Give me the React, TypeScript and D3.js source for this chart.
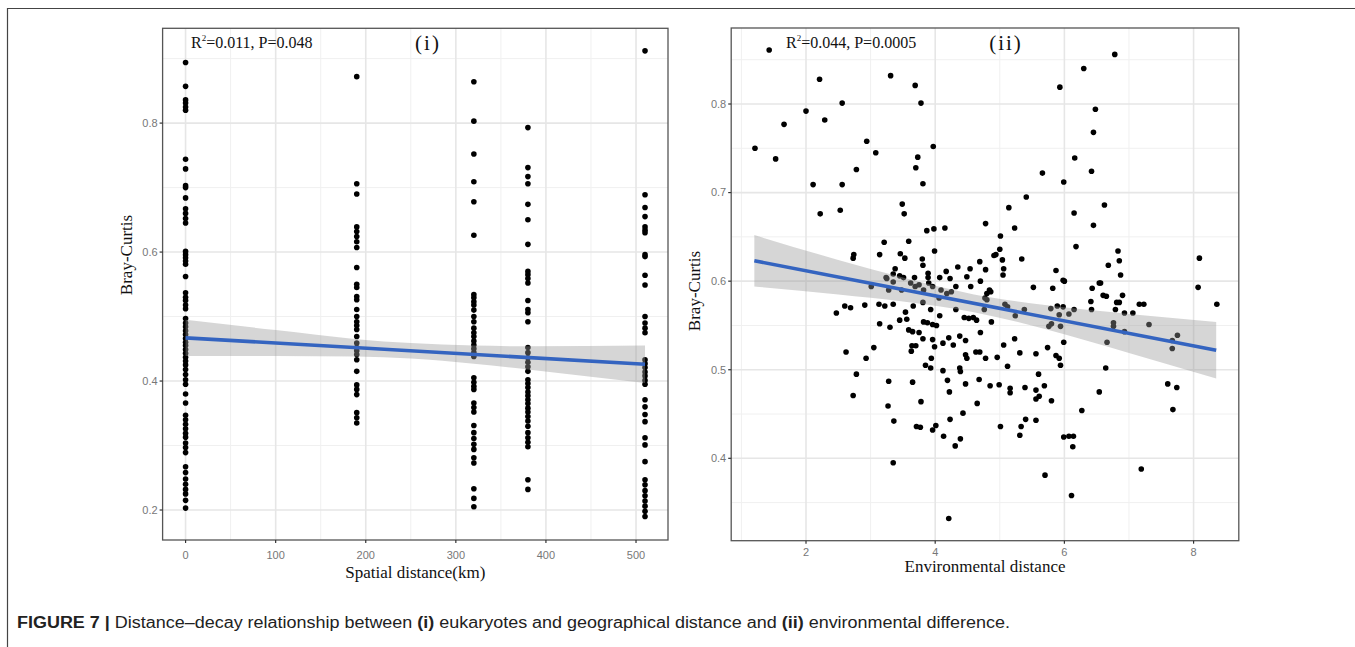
import React from 'react';
import * as d3 from 'd3';

// ---- panel (i): Bray-Curtis vs spatial distance, one column per site pair distance
const spatialCols = [0, 190, 320, 380, 510];
const col0 = [0.894, 0.857, 0.836, 0.831, 0.825, 0.820, 0.744, 0.729, 0.703, 0.700, 0.684, 0.667, 0.660, 0.652, 0.645,
  0.601, 0.596, 0.591, 0.586, 0.581, 0.562, 0.537, 0.530, 0.525, 0.518, 0.512, 0.497, 0.490, 0.484, 0.478, 0.472,
  0.466, 0.460, 0.455, 0.449, 0.443, 0.437, 0.431, 0.425, 0.418, 0.410, 0.402, 0.395, 0.380, 0.366, 0.347, 0.340,
  0.333, 0.326, 0.319, 0.313, 0.304, 0.297, 0.289, 0.267, 0.258, 0.248, 0.240, 0.232, 0.225, 0.215, 0.203];
const col190 = [0.872, 0.706, 0.690, 0.639, 0.632, 0.624, 0.616, 0.607, 0.576, 0.550, 0.545, 0.531, 0.526, 0.511,
  0.500, 0.492, 0.486, 0.480, 0.469, 0.459, 0.452, 0.447, 0.441, 0.433, 0.415, 0.394, 0.387, 0.379, 0.351, 0.343, 0.335];
const col320 = [0.864, 0.803, 0.752, 0.709, 0.678, 0.626, 0.534, 0.529, 0.523, 0.518, 0.510, 0.500, 0.492, 0.482,
  0.475, 0.469, 0.462, 0.456, 0.450, 0.444, 0.438, 0.405, 0.398, 0.392, 0.387, 0.366, 0.359, 0.352, 0.331, 0.320,
  0.311, 0.302, 0.294, 0.281, 0.273, 0.233, 0.218, 0.205];
const col380 = [0.793, 0.731, 0.717, 0.706, 0.674, 0.650, 0.612, 0.570, 0.565, 0.559, 0.552, 0.525, 0.511, 0.506,
  0.492, 0.452, 0.444, 0.436, 0.429, 0.422, 0.415, 0.402, 0.396, 0.390, 0.383, 0.377, 0.371, 0.365, 0.358, 0.352,
  0.345, 0.338, 0.330, 0.320, 0.312, 0.305, 0.298, 0.247, 0.232];
const col510 = [0.912, 0.689, 0.669, 0.655, 0.639, 0.634, 0.630, 0.596, 0.593, 0.564, 0.549, 0.500, 0.490, 0.482,
  0.475, 0.433, 0.427, 0.421, 0.414, 0.408, 0.401, 0.395, 0.371, 0.360, 0.348, 0.337, 0.312, 0.301, 0.275, 0.247,
  0.239, 0.230, 0.222, 0.214, 0.206, 0.198, 0.190];
const spatialValues = [col0, col190, col320, col380, col510];

// lm fit and 95% band
const spatialFitX = [0, 100, 190, 250, 320, 380, 510];
const spatialFitLo = [0.439, 0.439, 0.438, 0.435, 0.427, 0.418, 0.397];
const spatialFitHi = [0.495, 0.479, 0.465, 0.459, 0.455, 0.454, 0.455];
const spatialLine = [[0, 0.467], [510, 0.426]];

// ---- panel (ii): Bray-Curtis vs environmental distance
const envPoints: [number, number][] = [
  [1.43, 0.861], [1.21, 0.750], [1.53, 0.738], [1.66, 0.777], [2.0, 0.792], [2.21, 0.828], [2.29, 0.782],
  [2.56, 0.801], [2.11, 0.709], [2.56, 0.709], [2.22, 0.676], [2.53, 0.680], [2.78, 0.726], [2.94, 0.758],
  [3.08, 0.745], [3.31, 0.832], [3.49, 0.687], [3.52, 0.676], [2.73, 0.626], [2.74, 0.630], [3.21, 0.644],
  [3.14, 0.630], [3.59, 0.645], [3.46, 0.631], [3.53, 0.626], [3.38, 0.614], [3.35, 0.608], [3.24, 0.604],
  [3.45, 0.606], [3.51, 0.604],
  [3.69, 0.821], [3.78, 0.801], [3.97, 0.752], [3.73, 0.740], [3.70, 0.728], [3.81, 0.710], [3.87, 0.657],
  [3.98, 0.659], [4.15, 0.660], [3.99, 0.634], [3.80, 0.625], [3.81, 0.618], [3.89, 0.609], [3.89, 0.604],
  [3.68, 0.604], [4.07, 0.604], [4.17, 0.611], [4.23, 0.603], [4.35, 0.616], [4.49, 0.605], [4.54, 0.614],
  [4.69, 0.622], [4.78, 0.665], [4.78, 0.613], [5.01, 0.651], [5.0, 0.636], [4.91, 0.629], [4.94, 0.630],
  [5.04, 0.624], [5.06, 0.614], [5.05, 0.607], [5.14, 0.683], [5.23, 0.660], [5.41, 0.695], [5.34, 0.625],
  [5.66, 0.722], [5.93, 0.819], [5.99, 0.712], [6.30, 0.840], [6.48, 0.794], [6.45, 0.768], [6.16, 0.739],
  [6.42, 0.724], [6.62, 0.686], [6.15, 0.677], [6.45, 0.663], [6.18, 0.639], [5.87, 0.612], [5.98, 0.601],
  [6.78, 0.856], [8.09, 0.626], [8.07, 0.593], [6.90, 0.584], [6.87, 0.607], [6.85, 0.623], [6.83, 0.634],
  [6.68, 0.618], [6.60, 0.584], [6.65, 0.583], [6.56, 0.598], [6.43, 0.592], [5.82, 0.592], [5.52, 0.593],
  [4.80, 0.586], [4.77, 0.581], [4.84, 0.590], [4.32, 0.594], [4.25, 0.588], [4.18, 0.586], [4.06, 0.581],
  [4.09, 0.590], [3.96, 0.594], [3.90, 0.598], [3.82, 0.590], [3.75, 0.596], [3.69, 0.594], [3.62, 0.598],
  [3.48, 0.590], [3.35, 0.599], [3.28, 0.590], [3.25, 0.603], [3.01, 0.594], [4.55, 0.594], [4.70, 0.600],
  [4.86, 0.588], [6.00, 0.600], [6.54, 0.598],
  [2.47, 0.564], [2.60, 0.572], [2.69, 0.570], [2.91, 0.573], [3.13, 0.574], [3.22, 0.572], [3.35, 0.574],
  [3.14, 0.552], [3.30, 0.548], [3.45, 0.556], [3.54, 0.565], [3.56, 0.557], [3.66, 0.572], [3.81, 0.576],
  [3.59, 0.545], [3.65, 0.543], [3.75, 0.542], [3.82, 0.554], [3.88, 0.553], [3.96, 0.551], [4.02, 0.550],
  [3.93, 0.568], [4.07, 0.561], [3.81, 0.535], [3.64, 0.527], [3.63, 0.521], [3.70, 0.527], [3.96, 0.534],
  [3.99, 0.526], [3.94, 0.513], [4.12, 0.530], [4.21, 0.536], [4.28, 0.528], [4.32, 0.568], [4.38, 0.538],
  [4.47, 0.533], [4.45, 0.559], [4.52, 0.558], [4.59, 0.559], [4.64, 0.556], [4.70, 0.542], [4.47, 0.517],
  [4.49, 0.513], [4.63, 0.520], [4.69, 0.520], [4.78, 0.513], [4.87, 0.554], [4.76, 0.568], [4.80, 0.579],
  [4.96, 0.514], [5.06, 0.528], [5.12, 0.504], [5.23, 0.535], [5.31, 0.519], [5.56, 0.518], [5.74, 0.525],
  [5.87, 0.516], [5.92, 0.513], [5.94, 0.505], [5.99, 0.531], [5.98, 0.571], [5.79, 0.569], [5.89, 0.572],
  [6.07, 0.563], [6.15, 0.568], [6.41, 0.577], [6.42, 0.568], [6.66, 0.531], [6.64, 0.502], [6.54, 0.475],
  [5.76, 0.549], [5.80, 0.552], [5.94, 0.549], [5.92, 0.562], [5.08, 0.574], [5.12, 0.571], [5.24, 0.561],
  [5.38, 0.568],
  [2.62, 0.520], [2.93, 0.513], [3.05, 0.525], [2.78, 0.495], [2.73, 0.471], [3.28, 0.487], [3.27, 0.459],
  [3.36, 0.442], [3.35, 0.395], [3.65, 0.486], [3.78, 0.464], [3.71, 0.436], [3.77, 0.435], [3.85, 0.505],
  [3.93, 0.502], [3.96, 0.432], [4.01, 0.437], [4.12, 0.499], [4.19, 0.488], [4.22, 0.475], [4.13, 0.425],
  [4.23, 0.444], [4.31, 0.414], [4.39, 0.422], [4.38, 0.502], [4.39, 0.498], [4.43, 0.451], [4.47, 0.484],
  [4.65, 0.462], [4.68, 0.489], [4.85, 0.482], [4.99, 0.483], [5.01, 0.436], [5.16, 0.479], [5.16, 0.474],
  [5.31, 0.426], [5.33, 0.436], [5.39, 0.480], [5.40, 0.444], [5.56, 0.443], [5.56, 0.477], [5.61, 0.470],
  [5.56, 0.467], [5.60, 0.495], [5.69, 0.482], [5.80, 0.465], [5.70, 0.381], [5.99, 0.424], [6.07, 0.425],
  [6.14, 0.425], [6.13, 0.413], [6.11, 0.358], [6.27, 0.454], [4.21, 0.332],
  [7.60, 0.484], [7.74, 0.480], [7.68, 0.455], [7.19, 0.388], [7.31, 0.551], [7.67, 0.524], [7.75, 0.539],
  [7.67, 0.533], [8.36, 0.574], [7.06, 0.564], [6.93, 0.564], [7.16, 0.574], [7.23, 0.574], [6.79, 0.568],
  [6.81, 0.576], [6.85, 0.576], [6.93, 0.543], [6.76, 0.553], [6.76, 0.549],
];

const envFitX = [1.2, 2.5, 3.5, 4.6, 5.7, 7.0, 8.35];
const envFitLo = [0.594, 0.585, 0.577, 0.565, 0.546, 0.519, 0.490];
const envFitHi = [0.652, 0.624, 0.604, 0.585, 0.573, 0.563, 0.554];
const envLine = [[1.2, 0.623], [8.35, 0.522]];

const serif = '"Liberation Serif", "Times New Roman", serif';
const sans = '"Liberation Sans", Arial, sans-serif';

type PanelProps = {
  left: number; right: number; top: number; bottom: number;
  xDomain: [number, number]; yDomain: [number, number];
  xTicks: number[]; xMinor: number[]; yTicks: number[]; yMinor: number[];
  yFormat: (v: number) => string;
  points: [number, number][];
  fitX: number[]; fitLo: number[]; fitHi: number[]; line: number[][];
  stat: string; statP: string; tag: string;
  statX: number; tagX: number;
  xTitle: string; xTitleY: number; xTickY: number; yTitleX: number; yTitleY: number;
};

function Panel(p: PanelProps) {
  const x = d3.scaleLinear().domain(p.xDomain).range([p.left, p.right]);
  const y = d3.scaleLinear().domain(p.yDomain).range([p.bottom, p.top]);
  const band = d3.area<number>()
    .x((_, i) => x(p.fitX[i]))
    .y0((_, i) => y(p.fitLo[i]))
    .y1((_, i) => y(p.fitHi[i]))
    .curve(d3.curveMonotoneX);
  const fit = d3.line<number[]>().x(d => x(d[0])).y(d => y(d[1]));
  const clipId = 'clip' + p.tag.length;
  return (
    <g>
      <defs>
        <clipPath id={clipId}>
          <rect x={p.left} y={p.top} width={p.right - p.left} height={p.bottom - p.top} />
        </clipPath>
      </defs>
      <g clipPath={`url(#${clipId})`}>
        {p.xMinor.map(v => <line key={'xm' + v} x1={x(v)} x2={x(v)} y1={p.top} y2={p.bottom} stroke="#f0f0f0" strokeWidth={1} />)}
        {p.yMinor.map(v => <line key={'ym' + v} y1={y(v)} y2={y(v)} x1={p.left} x2={p.right} stroke="#f0f0f0" strokeWidth={1} />)}
        {p.xTicks.map(v => <line key={'xg' + v} x1={x(v)} x2={x(v)} y1={p.top} y2={p.bottom} stroke="#e6e6e6" strokeWidth={1.6} />)}
        {p.yTicks.map(v => <line key={'yg' + v} y1={y(v)} y2={y(v)} x1={p.left} x2={p.right} stroke="#e6e6e6" strokeWidth={1.6} />)}
        {p.points.map((d, i) => <circle key={i} cx={x(d[0])} cy={y(d[1])} r={2.8} fill="#000" />)}
        <path d={band(p.fitX) || ''} fill="#999" fillOpacity={0.4} />
        <path d={fit(p.line) || ''} stroke="#3464c0" strokeWidth={3.6} fill="none" />
      </g>
      <rect x={p.left} y={p.top} width={p.right - p.left} height={p.bottom - p.top} fill="none" stroke="#555" strokeWidth={1.3} />
      {p.yTicks.map(v => (
        <g key={'yt' + v}>
          <line x1={p.left - 3} x2={p.left} y1={y(v)} y2={y(v)} stroke="#333" strokeWidth={1.2} />
          <text x={p.left - 5} y={y(v)} dy="0.35em" textAnchor="end" fontFamily={sans} fontSize={11} fill="#777">{p.yFormat(v)}</text>
        </g>
      ))}
      {p.xTicks.map(v => (
        <g key={'xt' + v}>
          <line x1={x(v)} x2={x(v)} y1={p.bottom} y2={p.bottom + 3} stroke="#333" strokeWidth={1.2} />
          <text x={x(v)} y={p.xTickY} dy="0.35em" textAnchor="middle" fontFamily={sans} fontSize={11} fill="#777">{v}</text>
        </g>
      ))}
      <text x={p.statX} y={p.top + 20} fontFamily={serif} fontSize={16} fill="#111">
        R<tspan fontSize={9} dy={-7}>2</tspan><tspan dy={7}>{p.stat}, P={p.statP}</tspan>
      </text>
      <text x={p.tagX} y={p.top + 22} textAnchor="middle" fontFamily={serif} fontSize={21} fill="#111" letterSpacing={2}>({p.tag})</text>
      <text x={(p.left + p.right) / 2} y={p.xTitleY} textAnchor="middle" fontFamily={serif} fontSize={17} fill="#111">{p.xTitle}</text>
      <text transform={`translate(${p.yTitleX},${p.yTitleY}) rotate(-90)`} textAnchor="middle" fontFamily={serif} fontSize={17} fill="#111">Bray-Curtis</text>
    </g>
  );
}

export default function App() {
  const spatialPoints: [number, number][] = [];
  spatialCols.forEach((c, i) => spatialValues[i].forEach(v => spatialPoints.push([c, v])));
  return (
    <svg width={1355} height={647} style={{ position: 'absolute', left: 0, top: 0, background: '#fff' }}>
      <rect x={0} y={0} width={1355} height={647} fill="#fff" />
      <path d="M7.5,647 V8.5 H1355" fill="none" stroke="#444" strokeWidth={1.2} />
      <Panel
        left={162.6} right={668} top={28.3} bottom={540}
        xDomain={[-25.5, 535.5]} yDomain={[0.1535, 0.947]}
        xTicks={[0, 100, 200, 300, 400, 500]} xMinor={[50, 150, 250, 350, 450]}
        yTicks={[0.2, 0.4, 0.6, 0.8]} yMinor={[0.3, 0.5, 0.7, 0.9]}
        yFormat={d3.format('.1f')}
        points={spatialPoints}
        fitX={spatialFitX} fitLo={spatialFitLo} fitHi={spatialFitHi} line={spatialLine}
        stat="=0.011" statP="0.048" tag="i" statX={191} tagX={428}
        xTitle="Spatial distance(km)" xTitleY={578} xTickY={555} yTitleX={132} yTitleY={255}
      />
      <Panel
        left={731.2} right={1238.8} top={28} bottom={540.7}
        xDomain={[0.842, 8.70]} yDomain={[0.307, 0.8858]}
        xTicks={[2, 4, 6, 8]} xMinor={[1, 3, 5, 7]}
        yTicks={[0.4, 0.5, 0.6, 0.7, 0.8]} yMinor={[0.35, 0.45, 0.55, 0.65, 0.75, 0.85]}
        yFormat={d3.format('.1f')}
        points={envPoints}
        fitX={envFitX} fitLo={envFitLo} fitHi={envFitHi} line={envLine}
        stat="=0.044" statP="0.0005" tag="ii" statX={786} tagX={1006}
        xTitle="Environmental distance" xTitleY={572} xTickY={552} yTitleX={700} yTitleY={291}
      />
      <text x={17} y={628} fontFamily={sans} fontSize={16} fill="#222" textLength={993} lengthAdjust="spacingAndGlyphs">
        <tspan fontWeight="bold">FIGURE 7 | </tspan>
        Distance–decay relationship between <tspan fontWeight="bold">(i)</tspan> eukaryotes and geographical distance and <tspan fontWeight="bold">(ii)</tspan> environmental difference.
      </text>
    </svg>
  );
}
